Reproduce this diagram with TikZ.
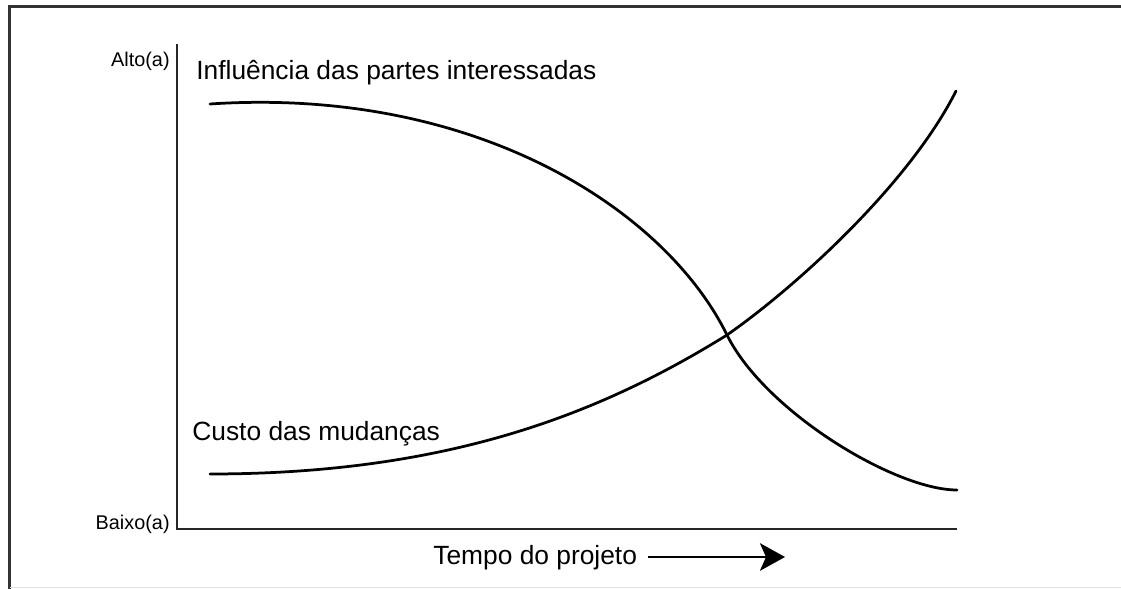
\documentclass[tikz,border=0pt]{standalone}
\usepackage{fontspec}
\setmainfont{Liberation Sans}
\usetikzlibrary{arrows.meta}
\begin{document}
\begin{tikzpicture}[
    biglabel/.style={inner sep=0pt, font=\fontsize{15}{18}\selectfont},
    axislabel/.style={inner sep=0pt, font=\fontsize{11.3}{13}\selectfont},
    curveline/.style={line width=0.055cm, line cap=round}]
                    \useasboundingbox (0.000000,0.000000) rectangle (22.420000,11.780000);

                    % Drawing frame
                    \draw [line width=0.06cm, black!80] (0.200000,0.000000) -- (0.200000,11.640000) -- (22.420000,11.640000);%
                    \draw [line width=0.02cm, black!12] (0.200000,0.020000) -- (22.420000,0.020000);%

                    % Drawing axes
                    \draw [line width=0.05cm, black!85] (3.540000,10.900000) -- (3.540000,1.200000) -- (19.140000,1.200000);%

                    % Marking axis ends
                    \draw (3.400000,10.440000) node [axislabel, anchor=base east] (alto) {Alto(a)};%
                    \draw (3.400000,1.180000) node [axislabel, anchor=base east] (baixo) {Baixo(a)};%

                    % Marking crossing point of the curves
                    \coordinate (cruzamento) at (14.540000,5.080000);

                    % Drawing curve of influence
                    \draw [curveline] (4.200000,9.700000) .. controls (9.500000,10.050000) and (13.300000,7.600000) .. (cruzamento)
                                      .. controls (15.300000,3.550000) and (17.900000,1.980000) .. (19.140000,1.980000);%

                    % Drawing curve of cost
                    \draw [curveline] (4.200000,2.300000) .. controls (9.000000,2.300000) and (12.040000,3.530000) .. (cruzamento)
                                      .. controls (16.000000,6.100000) and (18.220000,8.160000) .. (19.120000,9.960000);%

                    % Marking curves
                    \draw (3.920000,10.180000) node [biglabel, anchor=base west] (influencia) {Influência das partes interessadas};%
                    \draw (3.840000,2.960000) node [biglabel, anchor=base west] (custo) {Custo das mudanças};%

                    % Marking time axis
                    \draw (8.660000,0.480000) node [biglabel, anchor=base west] (tempo) {Tempo do projeto};%
                    \coordinate (tempostart) at (12.960000,0.640000);
                    \coordinate (tempoend) at (15.700000,0.640000);
                    \draw [line width=0.05cm, -{Stealth[length=0.5cm, width=0.55cm, inset=0.12cm]}] (tempostart) -- (tempoend);%
\end{tikzpicture}
\end{document}
